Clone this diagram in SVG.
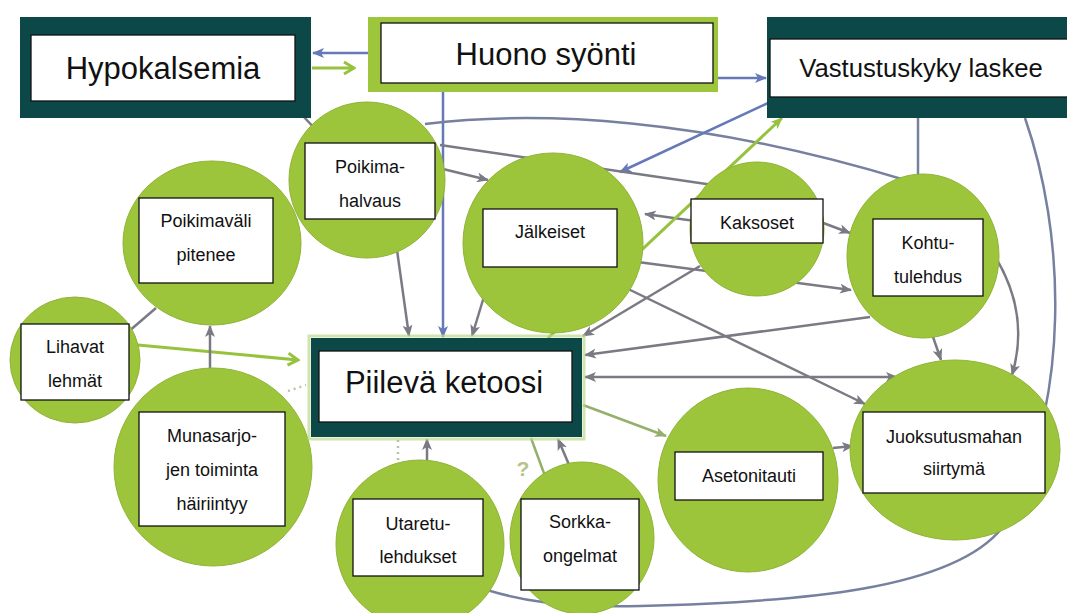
<svg xmlns="http://www.w3.org/2000/svg" width="1067" height="613" viewBox="0 0 1067 613">
<style>
.c{fill:#9dc53c;stroke:#8fb336;stroke-width:1}
.b{fill:#fff;stroke:#111;stroke-width:1.3}
.t{font-family:"Liberation Sans",Arial,sans-serif;font-size:18px;fill:#111;text-anchor:middle}
.T{font-family:"Liberation Sans",Arial,sans-serif;font-size:31px;fill:#111;text-anchor:middle}
.dk{fill:#0c4848}
.g{fill:none;stroke:#7a7a84;stroke-width:2.5}
.bl{fill:none;stroke:#6579b8;stroke-width:2.5}
.ba{fill:none;stroke:#77819f;stroke-width:2.5}
.gr{fill:none;stroke:#97c23e;stroke-width:3}
.gg{fill:none;stroke:#94b06a;stroke-width:2.5}
.dot{fill:none;stroke:#b9c3a8;stroke-width:2.5;stroke-dasharray:2 4}
</style>
<defs>
<marker id="ag" viewBox="0 0 12 10" refX="11" refY="5" markerWidth="12" markerHeight="10" markerUnits="userSpaceOnUse" orient="auto-start-reverse"><path d="M0,0 L12,5 L0,10 L3,5 z" fill="#7a7a84"/></marker>
<marker id="ab" viewBox="0 0 12 10" refX="11" refY="5" markerWidth="12" markerHeight="10" markerUnits="userSpaceOnUse" orient="auto"><path d="M0,0 L12,5 L0,10 L3,5 z" fill="#6579b8"/></marker>
<marker id="agr" viewBox="0 0 12 10" refX="11" refY="5" markerWidth="12" markerHeight="10" markerUnits="userSpaceOnUse" orient="auto"><path d="M0,0 L12,5 L0,10 L3,5 z" fill="#97c23e"/></marker>
<marker id="agg" viewBox="0 0 12 10" refX="11" refY="5" markerWidth="12" markerHeight="10" markerUnits="userSpaceOnUse" orient="auto"><path d="M0,0 L12,5 L0,10 L3,5 z" fill="#94b06a"/></marker>
<marker id="chev" viewBox="-2 -2 14 16" refX="10" refY="6" markerWidth="14" markerHeight="16" markerUnits="userSpaceOnUse" orient="auto"><path d="M0,0 L10,6 L0,12" fill="none" stroke="#97c23e" stroke-width="3"/></marker>
</defs>
<rect width="1067" height="613" fill="#fff"/>

<g id="connectors">
<path class="bl" d="M368,53 L313,53" marker-end="url(#ab)"/>
<path class="gr" d="M312,68 L354,68" marker-end="url(#chev)"/>
<path class="bl" d="M718,78 L766,78" marker-end="url(#ab)"/>
<path class="bl" d="M443,92 L443,337" marker-end="url(#ab)"/>
<path class="g" d="M303,116 L318,132"/>
<path class="ba" d="M425,124 C540,110 700,118 905,180"/>
<path class="bl" d="M768,103 L620,172" marker-end="url(#ab)"/>
<path class="g" d="M440,145 L720,186"/>
<path class="g" d="M443,169 L488,180" marker-end="url(#ag)"/>
<path class="g" d="M695,221 L645,214" marker-end="url(#ag)"/>
<path class="gr" d="M548,338 L782,118" marker-end="url(#agr)"/>
<path class="g" d="M630,261 L851,290" marker-end="url(#ag)"/>
<path class="g" d="M818,221 L850,233" marker-end="url(#ag)"/>
<path class="g" d="M700,266 L583,336" marker-end="url(#ag)"/>
<path class="g" d="M622,286 L865,404" marker-end="url(#ag)"/>
<path class="g" d="M870,317 L585,355" marker-end="url(#ag)"/>
<path class="g" d="M585,377 L897,377" marker-start="url(#ag)" marker-end="url(#ag)"/>
<path class="gg" d="M583,405 L666,436" marker-end="url(#agg)"/>
<path class="g" d="M833,448 L853,446" marker-end="url(#ag)"/>
<path class="g" d="M932,334 L941,360" marker-end="url(#ag)"/>
<path class="g" d="M996,258 Q1030,315 1012,375" marker-end="url(#ag)"/>
<path class="ba" d="M918,118 L918,176"/>
<path class="ba" d="M1025,118 C1064,230 1074,400 1002,528 C952,590 800,602 640,606 C560,608 520,600 487,590"/>
<path class="g" d="M397,250 L409,336" marker-end="url(#ag)"/>
<path class="g" d="M486,290 L472,336" marker-end="url(#ag)"/>
<path class="gr" d="M138,345 L298,360" marker-end="url(#chev)"/>
<path class="g" d="M128,332 L156,308"/>
<path class="g" d="M210,370 L210,326" marker-end="url(#ag)"/>
<path class="dot" d="M288,391 L306,385"/>
<path class="g" d="M427,462 L427,439" marker-end="url(#ag)"/>
<path class="dot" d="M398,440 L398,468"/>
<path class="g" d="M570,467 L558,439" marker-end="url(#ag)"/>
<path class="gg" d="M545,476 L531,438"/>
<text x="523" y="476" font-family="Liberation Sans,Arial,sans-serif" font-size="21" font-weight="bold" fill="#b4c48a" text-anchor="middle">?</text>
</g>

<g id="hypokalsemia">
<rect class="dk" x="20" y="17" width="291" height="101"/>
<rect class="b" x="31" y="35" width="264" height="66"/>
<text class="T" x="163" y="79">Hypokalsemia</text>
</g>

<g id="huono-syonti">
<rect x="368" y="17" width="350" height="75" fill="#9dc63c"/>
<rect class="b" x="381" y="23" width="332" height="60"/>
<text class="T" x="546" y="65">Huono syönti</text>
</g>

<g id="vastustuskyky">
<rect class="dk" x="767" y="17" width="300" height="101"/>
<rect class="b" x="770" y="39" width="300" height="58"/>
<text class="T" x="921" y="77" style="font-size:25.7px">Vastustuskyky laskee</text>
</g>

<g id="poikimavali">
<ellipse class="c" cx="212" cy="243" rx="89" ry="82"/>
<rect class="b" x="139" y="198" width="134" height="85"/>
<text class="t" x="206" y="227">Poikimaväli</text>
<text class="t" x="206" y="261">pitenee</text>
</g>

<g id="poikimahalvaus">
<circle class="c" cx="367" cy="180" r="78"/>
<rect class="b" x="305" y="143" width="130" height="76"/>
<text class="t" x="370" y="173">Poikima-</text>
<text class="t" x="370" y="207">halvaus</text>
</g>

<g id="lihavat">
<ellipse class="c" cx="75" cy="360" rx="65" ry="63"/>
<rect class="b" x="21" y="324" width="108" height="76"/>
<text class="t" x="75" y="353">Lihavat</text>
<text class="t" x="75" y="387">lehmät</text>
</g>

<g id="munasarjat">
<circle class="c" cx="213" cy="467" r="99"/>
<rect class="b" x="139" y="412" width="146" height="114"/>
<text class="t" x="212" y="442">Munasarjo-</text>
<text class="t" x="212" y="476">jen toiminta</text>
<text class="t" x="212" y="510">häiriintyy</text>
</g>

<g id="jalkeiset">
<circle class="c" cx="553" cy="243" r="90"/>
<rect class="b" x="483" y="209" width="134" height="58"/>
<text class="t" x="550" y="238">Jälkeiset</text>
</g>

<g id="kaksoset">
<circle class="c" cx="757" cy="229" r="67"/>
<rect class="b" x="691" y="199" width="132" height="44"/>
<text class="t" x="757" y="229">Kaksoset</text>
</g>

<g id="kohtutulehdus">
<ellipse class="c" cx="923" cy="256" rx="76" ry="82"/>
<rect class="b" x="873" y="219" width="110" height="77"/>
<text class="t" x="928" y="249">Kohtu-</text>
<text class="t" x="928" y="283">tulehdus</text>
</g>

<g id="juoksutusmahan">
<ellipse class="c" cx="955" cy="450" rx="105" ry="90"/>
<rect class="b" x="863" y="412" width="182" height="81"/>
<text class="t" x="954" y="443">Juoksutusmahan</text>
<text class="t" x="954" y="475">siirtymä</text>
</g>

<g id="asetonitauti">
<ellipse class="c" cx="748" cy="480" rx="90" ry="92"/>
<rect class="b" x="675" y="452" width="148" height="48"/>
<text class="t" x="749" y="482">Asetonitauti</text>
</g>

<g id="utaretulehdukset">
<circle class="c" cx="420" cy="544" r="84"/>
<rect class="b" x="353" y="499" width="130" height="77"/>
<text class="t" x="418" y="530">Utaretu-</text>
<text class="t" x="418" y="563">lehdukset</text>
</g>

<g id="sorkkaongelmat">
<ellipse class="c" cx="582" cy="538" rx="72" ry="76"/>
<rect class="b" x="521" y="499" width="118" height="91"/>
<text class="t" x="580" y="528">Sorkka-</text>
<text class="t" x="580" y="562">ongelmat</text>
</g>

<g id="piileva-ketoosi">
<rect x="309" y="336" width="275" height="103" fill="none" stroke="#bcd88a" stroke-width="3" opacity="0.7"/>
<rect class="dk" x="311" y="338" width="271" height="99"/>
<rect class="b" x="319" y="351" width="253" height="71"/>
<text class="T" x="444" y="393">Piilevä ketoosi</text>
</g>
</svg>
